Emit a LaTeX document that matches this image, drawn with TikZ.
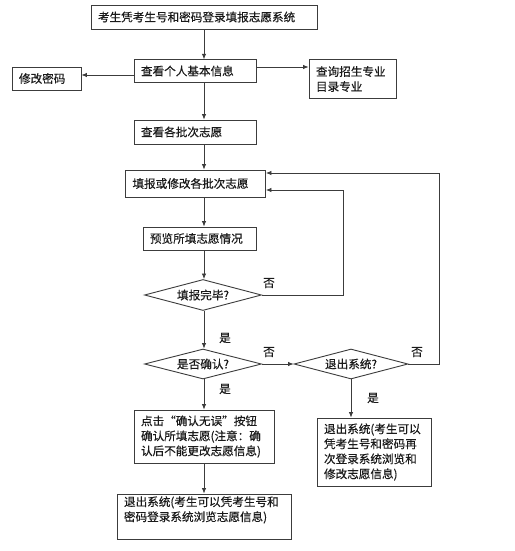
\documentclass[tikz,border=0pt]{standalone}
\usepackage{fontspec}
\newfontfamily\cjk[FakeBold=0.4]{Noto Sans CJK SC}
\usetikzlibrary{shapes.geometric,arrows.meta}
\definecolor{ln}{HTML}{3C3C3C}
\definecolor{tx}{HTML}{1A1A1A}
\tikzset{
  box/.style={draw=ln, line width=0.9pt, rectangle, align=left, inner xsep=7pt, inner ysep=2pt,
    font=\cjk\fontsize{11.6}{15}\selectfont, text=tx},
  dia/.style={draw=ln, line width=0.9pt, diamond, inner sep=0pt,
    font=\cjk\fontsize{11.6}{15}\selectfont, text=tx},
  lbl/.style={font=\cjk\fontsize{11.6}{15}\selectfont, text=tx, inner sep=0pt},
  conn/.style={draw=ln, line width=0.8pt, -{Latex[length=5.5pt,width=4.5pt]}},
  plain/.style={draw=ln, line width=0.8pt}
}
\begin{document}
\begin{tikzpicture}[x=1pt,y=-1pt]
\fill[white] (0,0) rectangle (514,551);
\useasboundingbox (0,0) rectangle (514,551);

\node[box, minimum height=24pt, text width=212pt] (b1) at (204,17) {考生凭考生号和密码登录填报志愿系统};
\node[box, minimum height=22.5pt, text width=108pt] (b2) at (195,71) {查看个人基本信息};
\node[box, minimum height=23pt, text width=55pt] (pw) at (46.5,78.5) {修改密码};
\node[box, minimum height=38.5pt, text width=73pt] (q) at (352.5,79) {查询招生专业\\目录专业};
\node[box, minimum height=24pt, text width=108pt] (b3) at (195,132) {查看各批次志愿};
\node[box, minimum height=27pt, text width=126pt] (b4) at (195.5,183.5) {填报或修改各批次志愿};
\node[box, minimum height=23pt, text width=99pt] (b5) at (199.5,238.5) {预览所填志愿情况};
\node[dia, minimum width=117pt, minimum height=31pt, aspect=3.8] (d1) at (203,295) {填报完毕?};
\node[dia, minimum width=117pt, minimum height=30pt, aspect=3.9] (d2) at (203,364) {是否确认?};
\node[dia, minimum width=114pt, minimum height=30pt, aspect=3.8] (d3) at (351,364) {退出系统?};
\node[box, minimum height=53pt, text width=126pt] (b6) at (204,436.5) {点击“确认无误”按钮\\确认所填志愿(注意：确\\认后不能更改志愿信息)};
\node[box, minimum height=68pt, text width=100pt] (b7) at (374,452) {退出系统(考生可以\\凭考生号和密码再\\次登录系统浏览和\\修改志愿信息)};
\node[box, minimum height=45pt, text width=160pt] (b8) at (204,516.5) {退出系统(考生可以凭考生号和\\密码登录系统浏览志愿信息)\\[-4pt]\strut};

\coordinate (l1) at (343,0);
\coordinate (l2) at (439,0);

\draw[conn] (b1.south) -- (b1.south |- b2.north);
\draw[conn] ([yshift=-4pt]b2.west) -- ([yshift=-4pt]b2.west -| pw.east);
\draw[conn] ([yshift=4pt]b2.east) -- ([yshift=4pt]b2.east -| q.west);
\draw[conn] (b2.south -| b1.south) -- (b3.north -| b1.south);
\draw[conn] (b3.south -| b1.south) -- (b4.north -| b1.south);
\draw[conn] (b4.south -| b1.south) -- (b5.north -| b1.south);
\draw[conn] (b5.south -| b1.south) -- (d1.north -| b1.south);
\draw[conn] (d1.east) -- (d1.east -| l1) |- ([yshift=-6.5pt]b4.east);
\draw[conn] (d1.south -| b1.south) -- (d2.north -| b1.south);
\draw[conn] (d2.east) -- (d3.west);
\draw[conn] (d3.east) -- (d3.east -| l2) |- ([yshift=10.5pt]b4.east);
\draw[conn] (d2.south -| b1.south) -- (b6.north -| b1.south);
\draw[conn] (d3.south) -- (d3.south |- b7.north);
\draw[conn] (b6.south -| b1.south) -- (b8.north -| b1.south);

\node[lbl] (n1) at (269,283) {否};
\node[lbl] (y1) at (225,338) {是};
\node[lbl] (n2) at (269,352) {否};
\node[lbl] (n3) at (417,352) {否};
\node[lbl] (y2) at (225,389) {是};
\node[lbl] (y3) at (373,398) {是};
\end{tikzpicture}
\end{document}
